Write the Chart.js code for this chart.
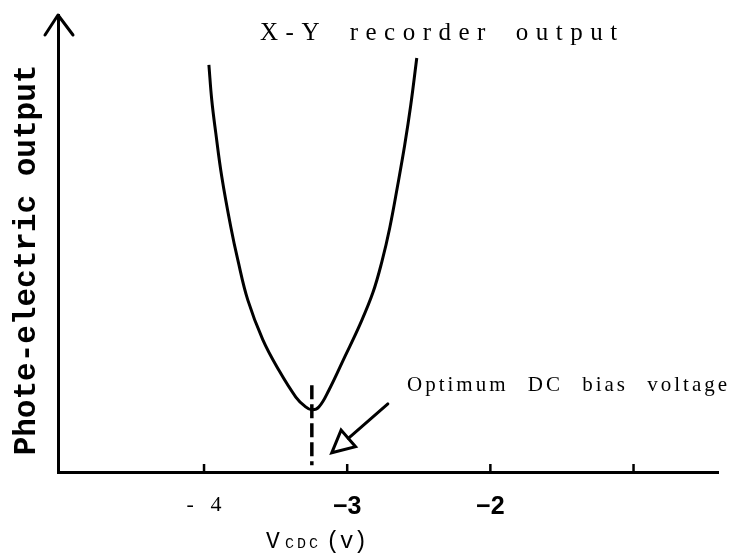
<!DOCTYPE html>
<html>
<head>
<meta charset="utf-8">
<script src="https://cdn.jsdelivr.net/npm/chart.js@4/dist/chart.umd.min.js"></script>
<style>
  html, body { margin: 0; padding: 0; background: #ffffff; }
  #wrap { width: 729px; height: 558px; }
</style>
</head>
<body>
<div id="wrap"><canvas id="c" width="729" height="558"></canvas></div>
<script>
// ---- data ----
const xTicks = [-4, -3, -2, -1];
const xTickLabels = ['-   4', '\u22123', '\u22122', ''];

const curveX = [-3.966, -3.946, -3.918, -3.876, -3.813, -3.764, -3.694, -3.589, -3.478, -3.359, -3.296, -3.247,
                -3.198, -3.128, -3.017, -2.912, -2.821, -2.758, -2.703, -2.647, -2.598, -2.556, -2.514];
const curveY = [89.1, 81.4, 74.2, 64.6, 53.6, 46.4, 37.6, 28.9, 22.3, 16.4, 14.4, 13.6,
                14.2, 17.9, 25.2, 32.2, 39.2, 46.0, 53.4, 62.8, 71.6, 80.3, 90.6];

const biasX = [-3.247, -3.247];
const biasY = [19.0, 1.5];

const arrowX = [-2.716, -3.108];   // tail, tip
const arrowY = [14.9, 4.2];

const titleText = 'X-Y recorder output';
const noteText = 'Optimum DC bias voltage';
const yTitle = 'Phote-electric output';

const xMin = -5.02, xMax = -0.41, yMin = 0, yMax = 100;

// ---- helpers ----
function pts(xs, ys) { return xs.map((x, i) => ({ x: x, y: ys[i] })); }
function drawSpaced(ctx, text, x, y, ls, ws) {
  for (const ch of text) {
    ctx.fillText(ch, x, y);
    x += ctx.measureText(ch).width + ls + (ch === ' ' ? ws : 0);
  }
}

const decor = {
  id: 'decor',
  afterDraw(chart) {
    const ctx = chart.ctx;
    const xs = chart.scales.x, ys = chart.scales.y;
    const ca = chart.chartArea;
    ctx.save();
    ctx.strokeStyle = '#000';
    ctx.fillStyle = '#000';
    ctx.lineCap = 'round';
    ctx.lineJoin = 'round';

    // y axis arrow head
    ctx.lineWidth = 3;
    ctx.beginPath();
    ctx.moveTo(ca.left - 13, ca.top + 20);
    ctx.lineTo(ca.left, ca.top);
    ctx.lineTo(ca.left + 15, ca.top + 20);
    ctx.stroke();

    // inward tick marks on x axis
    ctx.lineWidth = 2.5;
    ctx.lineCap = 'butt';
    xTicks.forEach(v => {
      const px = xs.getPixelForValue(v);
      ctx.beginPath();
      ctx.moveTo(px, ca.bottom);
      ctx.lineTo(px, ca.bottom - 8);
      ctx.stroke();
    });

    // annotation arrow (open head)
    const tx = xs.getPixelForValue(arrowX[0]), ty = ys.getPixelForValue(arrowY[0]);
    const hx = xs.getPixelForValue(arrowX[1]), hy = ys.getPixelForValue(arrowY[1]);
    const len = Math.hypot(hx - tx, hy - ty);
    const dx = (hx - tx) / len, dy = (hy - ty) / len;
    const hl = 22, hw = 11;
    const bx = hx - dx * hl, by = hy - dy * hl;
    ctx.lineWidth = 3;
    ctx.lineCap = 'round';
    ctx.beginPath();
    ctx.moveTo(tx, ty);
    ctx.lineTo(bx, by);
    ctx.stroke();
    ctx.lineJoin = 'miter';
    ctx.beginPath();
    ctx.moveTo(hx, hy);
    ctx.lineTo(bx - dy * hw, by + dx * hw);
    ctx.lineTo(bx + dy * hw, by - dx * hw);
    ctx.closePath();
    ctx.stroke();

    // title
    ctx.textBaseline = 'alphabetic';
    ctx.textAlign = 'left';
    ctx.font = '25px "Liberation Serif", serif';
    drawSpaced(ctx, titleText, 260, 40, 7.5, 9);

    // annotation text
    ctx.font = '21px "Liberation Serif", serif';
    drawSpaced(ctx, noteText, 407, 391, 3, 11);

    // y axis title
    ctx.save();
    ctx.translate(35, 260);
    ctx.rotate(-Math.PI / 2);
    ctx.textAlign = 'center';
    ctx.font = 'bold 31px "Liberation Mono", monospace';
    ctx.fillText(yTitle, 0, 0);
    ctx.restore();

    // x axis title  V_CDC(v)
    ctx.textAlign = 'left';
    ctx.font = '23px "Liberation Mono", monospace';
    ctx.fillText('V', 266, 548);
    ctx.font = '15px "Liberation Mono", monospace';
    drawSpaced(ctx, 'CDC', 285, 548, 3, 0);
    ctx.font = '23px "Liberation Mono", monospace';
    ctx.fillText('(v)', 326, 548);

    ctx.restore();
  }
};

new Chart(document.getElementById('c'), {
  type: 'scatter',
  data: {
    datasets: [
      {
        label: 'output',
        data: pts(curveX, curveY),
        showLine: true,
        borderColor: '#000',
        borderWidth: 3,
        pointRadius: 0,
        tension: 0.4,
        fill: false
      },
      {
        label: 'bias',
        data: pts(biasX, biasY),
        showLine: true,
        borderColor: '#000',
        borderWidth: 3.5,
        borderDash: [14, 5],
        pointRadius: 0,
        fill: false
      }
    ]
  },
  options: {
    responsive: false,
    animation: false,
    devicePixelRatio: 1,
    layout: { padding: { left: 58, right: 11, top: 15, bottom: 16 } },
    plugins: { legend: { display: false }, tooltip: { enabled: false }, title: { display: false } },
    scales: {
      x: {
        type: 'linear',
        min: xMin, max: xMax,
        afterBuildTicks: (scale) => { scale.ticks = xTicks.map(v => ({ value: v })); },
        grid: { display: false, drawTicks: false },
        border: { display: true, color: '#000', width: 3 },
        ticks: {
          color: '#000',
          padding: 20,
          autoSkip: false,
          maxRotation: 0,
          font: (ctx) => (ctx.tick && ctx.tick.value === -4)
            ? { family: '"Liberation Serif", serif', size: 22 }
            : { family: '"Liberation Sans", Arial, sans-serif', size: 25, weight: 'bold' },
          callback: (value) => { const i = xTicks.indexOf(value); return i >= 0 ? xTickLabels[i] : ''; }
        }
      },
      y: {
        type: 'linear',
        min: yMin, max: yMax,
        grid: { display: false, drawTicks: false },
        border: { display: true, color: '#000', width: 3 },
        ticks: { display: false }
      }
    }
  },
  plugins: [decor]
});
</script>
</body>
</html>
